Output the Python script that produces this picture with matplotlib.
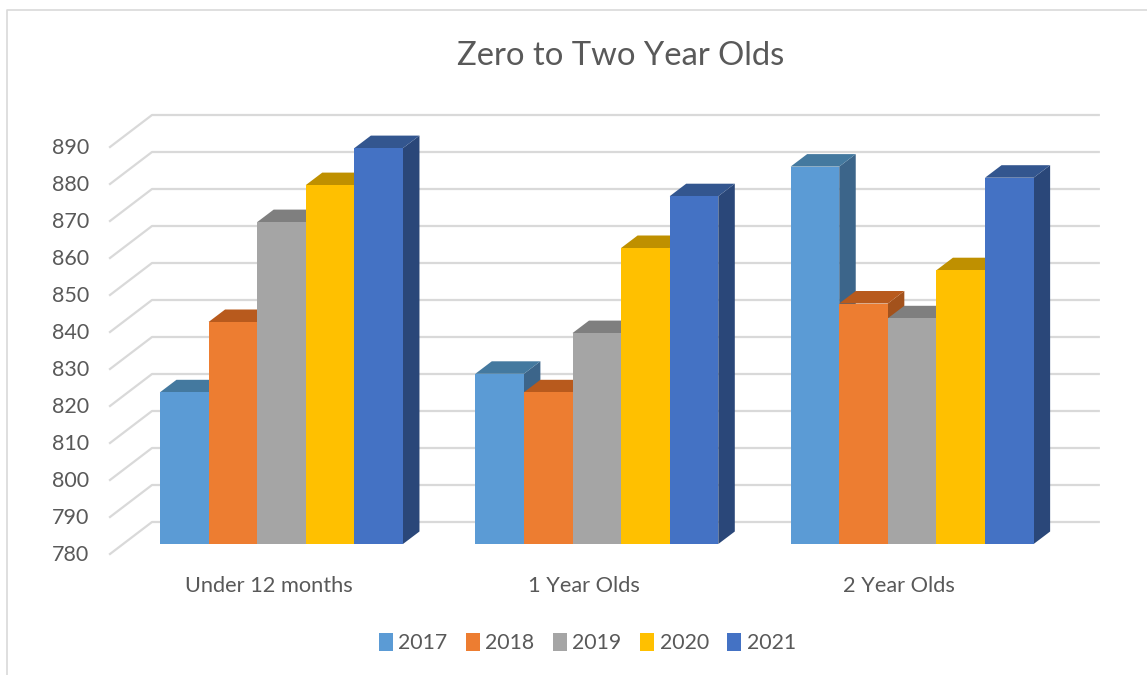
import matplotlib
matplotlib.use('Agg')
import matplotlib.pyplot as plt
from matplotlib.patches import Polygon, Patch
from matplotlib.lines import Line2D

plt.rcParams['font.family'] = ['Lato', 'DejaVu Sans']

# Data
categories = ['Under 12 months', '1 Year Olds', '2 Year Olds']
years = ['2017', '2018', '2019', '2020', '2021']
values_2017 = [821, 826, 882]
values_2018 = [840, 821, 845]
values_2019 = [867, 837, 841]
values_2020 = [877, 860, 854]
values_2021 = [887, 874, 879]
y_ticks = [780, 790, 800, 810, 820, 830, 840, 850, 860, 870, 880, 890]

series = [values_2017, values_2018, values_2019, values_2020, values_2021]
front_colors = ['#5B9BD5', '#ED7D31', '#A5A5A5', '#FFC000', '#4472C4']
top_colors = ['#44799F', '#B85A1D', '#7F7F7F', '#BF9000', '#33568F']
side_colors = ['#3C658A', '#A3521C', '#6F6F6F', '#A67D00', '#2A4779']
text_color = '#595959'
grid_color = '#D9D9D9'

W, H = 1147, 675
fig = plt.figure(figsize=(W / 100, H / 100), dpi=100, facecolor='white')

# axes is the plane of the bar fronts, the walls and bar depth are offsets from it
ax = fig.add_axes([123.8 / W, 1 - 544 / H, 946 / W, 407 / H])
ax.set_xlim(-0.5, 2.5)
ax.set_ylim(780, 890)
ax.axis('off')

# size of one pixel in data units
px = 3 / 946
py = 110 / 407

bar_w = 48.6 * px
bar_dx = 16.5 * px
bar_dy = 12.5 * py

# walls
for t in y_ticks:
    ax.add_line(Line2D([-0.5 - 13.8 * px, -0.5 + 28.2 * px, 2.5 + 29 * px],
                       [t - 10 * py, t + 22 * py, t + 22 * py],
                       color=grid_color, lw=1.6, clip_on=False, zorder=1))
    ax.text(-0.5 - 34.8 * px, t - 11 * py, str(t), ha='right', va='center',
            fontsize=15.5, color=text_color)

# bars, left to right so that each one covers the side of the one before
z = 2
for i, cat in enumerate(categories):
    for j, vals in enumerate(series):
        x0 = i + (j - 2.5) * bar_w
        x1 = x0 + bar_w
        v = vals[i]
        side = [(x1, 780), (x1 + bar_dx, 780 + bar_dy), (x1 + bar_dx, v + bar_dy), (x1, v)]
        top = [(x0, v), (x0 + bar_dx, v + bar_dy), (x1 + bar_dx, v + bar_dy), (x1, v)]
        front = [(x0, 780), (x1, 780), (x1, v), (x0, v)]
        ax.add_patch(Polygon(side, fc=side_colors[j], ec='none', clip_on=False, zorder=z))
        ax.add_patch(Polygon(top, fc=top_colors[j], ec='none', clip_on=False, zorder=z))
        ax.add_patch(Polygon(front, fc=front_colors[j], ec='none', clip_on=False, zorder=z))
        z += 1
    ax.text(i - 13 * px, 780 - 42 * py, cat, ha='center', va='center',
            fontsize=15.7, color=text_color)

# chart frame, only top and left show in the crop
fig.add_artist(Line2D([7 / W, 7 / W, 1], [0, 1 - 10 / H, 1 - 10 / H],
                      color=grid_color, lw=1.2))

fig.text(621 / W, 1 - 56 / H, 'Zero to Two Year Olds', ha='center', va='center',
         fontsize=23.6, color=text_color)

handles = [Patch(fc=c, ec='none', label=y) for c, y in zip(front_colors, years)]
fig.legend(handles=handles, ncol=5, loc='center', bbox_to_anchor=(587.5 / W, 1 - 643 / H),
           frameon=False, fontsize=15.3, labelcolor=text_color, handlelength=0.65,
           handleheight=0.9, handletextpad=0.25, columnspacing=0.88, borderpad=0)

fig.savefig('out.png', dpi=100)
